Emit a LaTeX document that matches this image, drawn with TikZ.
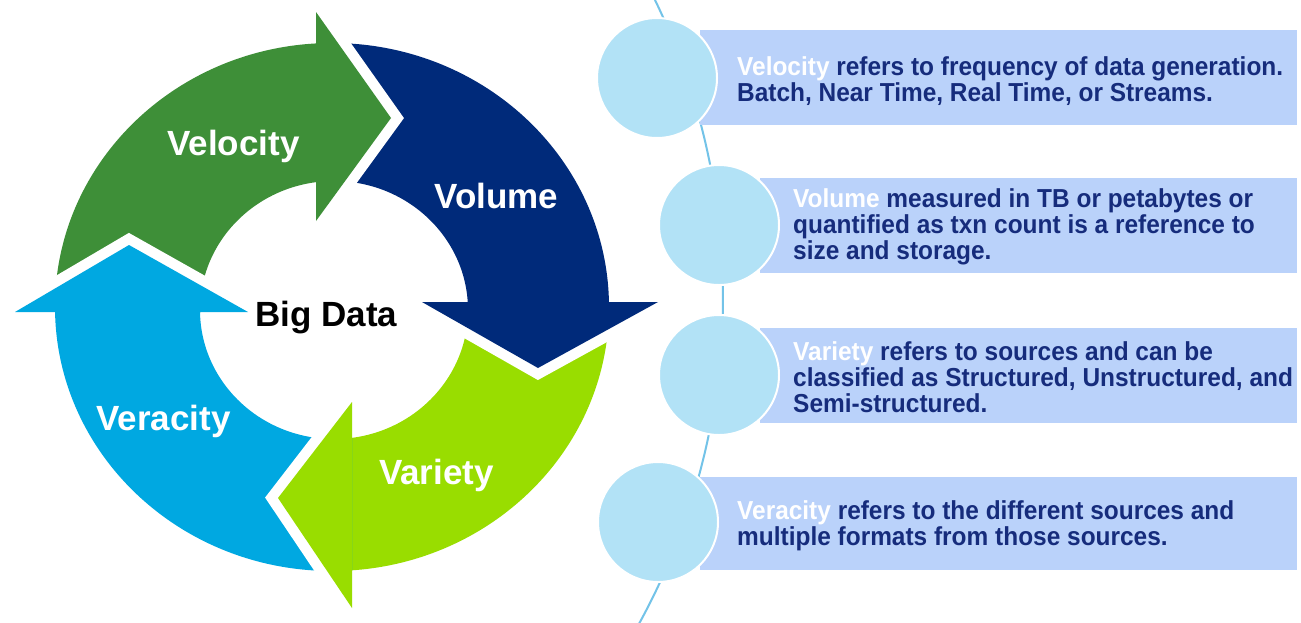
\documentclass[tikz,border=0pt]{standalone}
\usepackage{fontspec}
\setmainfont{Liberation Sans}
\newfontfamily\nar{Liberation Sans}[FakeStretch=0.94]
\usetikzlibrary{calc}
\definecolor{cgreen}{RGB}{62,143,56}
\definecolor{cnavy}{RGB}{0,42,122}
\definecolor{clime}{RGB}{153,221,0}
\definecolor{cblue}{RGB}{0,168,225}
\definecolor{ccirc}{RGB}{178,226,246}
\definecolor{crect}{RGB}{186,210,250}
\definecolor{ctext}{RGB}{22,44,124}
\definecolor{cline}{RGB}{115,195,232}
\tikzset{
  lbl/.style={text=white,font=\bfseries\fontsize{35}{40}\selectfont,inner sep=0pt,anchor=base},
  desc/.style={text=ctext,anchor=west,align=left,inner sep=0pt,font=\nar\bfseries\fontsize{26}{26}\selectfont},
  bubble/.style={fill=ccirc,draw=white,line width=2pt},
  panel/.style={fill=crect,draw=none},
  gap/.style={white,line width=21pt,line join=miter},
  ring/.style={even odd rule}
}
\newcommand{\ringpath}{(332,307) ellipse[x radius=277,y radius=264] (334,310) ellipse[x radius=134,y radius=129]}
\begin{document}
\begin{tikzpicture}[x=1pt,y=-1pt]
\useasboundingbox (0,0) rectangle (1301,622);
\fill[white] (0,0) rectangle (1301,622);
% bodies
\begin{scope}\clip (-10,-10) rectangle (319,312);\fill[cgreen,ring] \ringpath;\end{scope}
\begin{scope}\clip (316,-10) rectangle (700,305);\fill[cnavy,ring] \ringpath;\end{scope}
\begin{scope}\clip (349,302) rectangle (700,640);\fill[clime,ring] \ringpath;\end{scope}
\begin{scope}\clip (-10,309) rectangle (352,640);\fill[cblue,ring] \ringpath;\end{scope}
% head corners
\coordinate (g1) at (316,12);  \coordinate (gt) at (391,118); \coordinate (g2) at (316,221);
\coordinate (n1) at (658,302); \coordinate (nt) at (538,368); \coordinate (n2) at (422,302);
\coordinate (l1) at (352,608); \coordinate (lt) at (278,498); \coordinate (l2) at (352,402);
\coordinate (v1) at (15,312);  \coordinate (vt) at (129,245); \coordinate (v2) at (248,312);
% gaps
\draw[gap] (g1) -- (gt) -- (g2);
\draw[gap] (n1) -- (nt) -- (n2);
\draw[gap] (l1) -- (lt) -- (l2);
\draw[gap] (v1) -- (vt) -- (v2);
% heads
\fill[cgreen] (g1) -- (gt) -- (g2) -- cycle;
\fill[cnavy] (n1) -- (nt) -- (n2) -- cycle;
\fill[clime] (l1) -- (lt) -- (l2) -- cycle;
\fill[cblue] (v1) -- (vt) -- (v2) -- cycle;
\node[lbl] (lvel) at (233.5,155) {Velocity};
\node[lbl] (lvol) at (496.5,208) {Volume};
\node[lbl] (lvar) at (436.5,484) {Variety};
\node[lbl] (lver) at (163.5,430) {Veracity};
\node[lbl,text=black] (big) at (326.5,326) {Big Data};
% right side
\coordinate (L) at (43,296.4);
\draw[cline,line width=2pt] ($(L)+(-27:680)$) arc[start angle=-27,end angle=30,radius=680];
\fill[panel] (700,30) rectangle (1297,125);
\fill[panel] (760,178) rectangle (1297,273);
\fill[panel] (760,328) rectangle (1297,423);
\fill[panel] (700,477) rectangle (1297,570);
\draw[bubble] (657,78) circle[radius=60];
\draw[bubble] (719,225) circle[radius=60];
\draw[bubble] (719,375) circle[radius=60];
\draw[bubble] (658,522) circle[radius=60];
\node[desc] (d1) at (737,81) {{\color{white}Velocity} refers to frequency of data generation.\\Batch, Near Time, Real Time, or Streams.};
\node[desc] (d2) at (793,227) {{\color{white}Volume} measured in TB or petabytes or\\quantified as txn count is a reference to\\size and storage.};
\node[desc] (d3) at (793,377) {{\color{white}Variety} refers to sources and can be\\classified as Structured, Unstructured, and\\Semi-structured.};
\node[desc] (d4) at (737,526) {{\color{white}Veracity} refers to the different sources and\\multiple formats from those sources.};
\end{tikzpicture}
\end{document}
